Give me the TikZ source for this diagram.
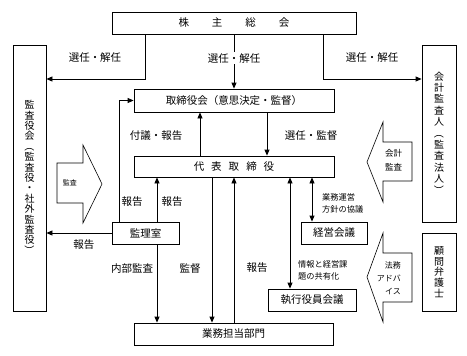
\documentclass[tikz,border=0pt]{standalone}
\usepackage{fontspec}
\setmainfont{Noto Sans CJK JP}
\usepackage{graphicx}
\usetikzlibrary{arrows.meta,calc}
\newcommand\vlparen{\rotatebox[origin=c]{-90}{（}}
\newcommand\vrparen{\rotatebox[origin=c]{-90}{）}}
\tikzset{
  bx/.style={draw, line width=0.8pt, inner sep=0pt, font=\fontsize{10.5}{12}\selectfont},
  vbx/.style={bx, align=center},
  arr/.style={line width=0.8pt, -{Triangle[length=6pt,width=5pt]}},
  darr/.style={line width=0.8pt, {Triangle[length=6pt,width=5pt]}-{Triangle[length=6pt,width=5pt]}},
  lbl/.style={font=\fontsize{10.5}{12}\selectfont, inner sep=1pt},
  slbl/.style={font=\fontsize{8.2}{12.5}\selectfont, align=left, inner sep=0pt},
  blk/.style={draw, line width=0.6pt},
}
\begin{document}
\begin{tikzpicture}[x=1pt,y=-1pt]
\useasboundingbox (0,0) rectangle (467,356);
% boxes
\node[bx, minimum width=244pt, minimum height=22pt] (top) at (234,23) {株\hspace{23pt}主\hspace{23pt}総\hspace{23pt}会};
\node[vbx, minimum width=33pt, minimum height=266pt, font=\fontsize{10}{10.4}\selectfont] (kansa) at (29.5,178)
  {監\\査\\役\\会\\\vlparen\\監\\査\\役\\・\\社\\外\\監\\査\\役\\\vrparen};
\node[bx, minimum width=200pt, minimum height=23pt] (tori) at (234,100.5) {取締役会（意思決定・監督）};
\node[bx, minimum width=200pt, minimum height=21pt] (daihyo) at (234,166.5) {代\hspace{7pt}表\hspace{7pt}取\hspace{7pt}締\hspace{7pt}役};
\node[bx, minimum width=67pt, minimum height=22pt] (kanri) at (145.5,233) {監理室};
\node[bx, minimum width=199pt, minimum height=22pt] (gyomu) at (233.5,334) {業務担当部門};
\node[bx, minimum width=66pt, minimum height=22pt] (keiei) at (334,233) {経営会議};
\node[bx, minimum width=88pt, minimum height=22pt] (shikko) at (312,300) {執行役員会議};
\node[vbx, minimum width=34pt, minimum height=177pt, font=\fontsize{10}{11.4}\selectfont] (kaikei) at (439,133.5)
  {会\\計\\監\\査\\人\\\vlparen\\監\\査\\法\\人\\\vrparen};
\node[vbx, minimum width=34pt, minimum height=78pt, font=\fontsize{10}{10.8}\selectfont] (komon) at (439,272)
  {顧\\問\\弁\\護\\士};
% connectors
\draw[arr] ($(top.south west)+(34,0)$) |- (kansa.east |- 0,79);
\draw[arr] ($(top.south east)+(-33,0)$) |- (kaikei.west |- 0,79);
\draw[arr] (top.south) -- (tori.north) node[lbl, pos=0.44, fill=white] {選任・解任};
\draw[arr] (tori.south -| 267,0) -- (daihyo.north -| 267,0);
\draw[arr] (daihyo.north -| 200,0) -- (tori.south -| 200,0);
\draw[arr] (kanri.north -| 119,0) |- (tori.west);
\draw[arr] (kanri.north -| 157,0) -- (daihyo.south -| 157,0);
\draw[arr] (kanri.west) -- (kansa.east |- kanri.west);
\draw[arr] (kanri.south -| 157,0) -- (gyomu.north -| 157,0);
\draw[arr] (daihyo.south -| 212,0) -- (gyomu.north -| 212,0);
\draw[arr] (gyomu.north -| 234,0) -- (daihyo.south -| 234,0);
\draw[darr] (daihyo.south -| 290,0) -- (shikko.north -| 290,0);
\draw[darr] (daihyo.south -| 312,0) -- (keiei.north -| 312,0);
% labels
\node[lbl] (la) at (95,58) {選任・解任};
\node[lbl] (lb) at (372,58) {選任・解任};
\node[lbl] (lc) at (156,136) {付議・報告};
\node[lbl] (ld) at (311,136) {選任・監督};
\node[lbl] (le) at (132,202) {報告};
\node[lbl] (lf) at (172,202) {報告};
\node[lbl] (lg) at (84,245) {報告};
\node[lbl] (lh) at (132,269) {内部監査};
\node[lbl] (li) at (190,269) {監督};
\node[lbl] (lj) at (257,268) {報告};
\node[slbl, anchor=north west] (lk) at (322,193) {業務運営\\方針の協議};
\node[slbl, anchor=north west] (ll) at (298,260) {情報と経営課\\題の共有化};
% block arrows
\draw[blk] (57,163) -- (83,163) -- (83,145) -- (102,184) -- (83,223) -- (83,203) -- (57,203) -- cycle;
\node[font=\fontsize{7}{8}\selectfont] (bt1) at (70,183) {監査};
\draw[blk] (412,142) -- (383,142) -- (383,122) -- (367,162) -- (383,202) -- (383,181) -- (412,181) -- cycle;
\node[font=\fontsize{8.5}{14}\selectfont, align=center] (bt2) at (393.5,160) {会計\\監査};
\draw[blk] (412,253) -- (383,253) -- (383,233) -- (367,277) -- (383,322) -- (383,302) -- (412,302) -- cycle;
\node[font=\fontsize{8}{13}\selectfont, align=right, anchor=east, inner sep=0pt] (bt3) at (401,278) {法務\\アドバ\\イス};
\end{tikzpicture}
\end{document}
